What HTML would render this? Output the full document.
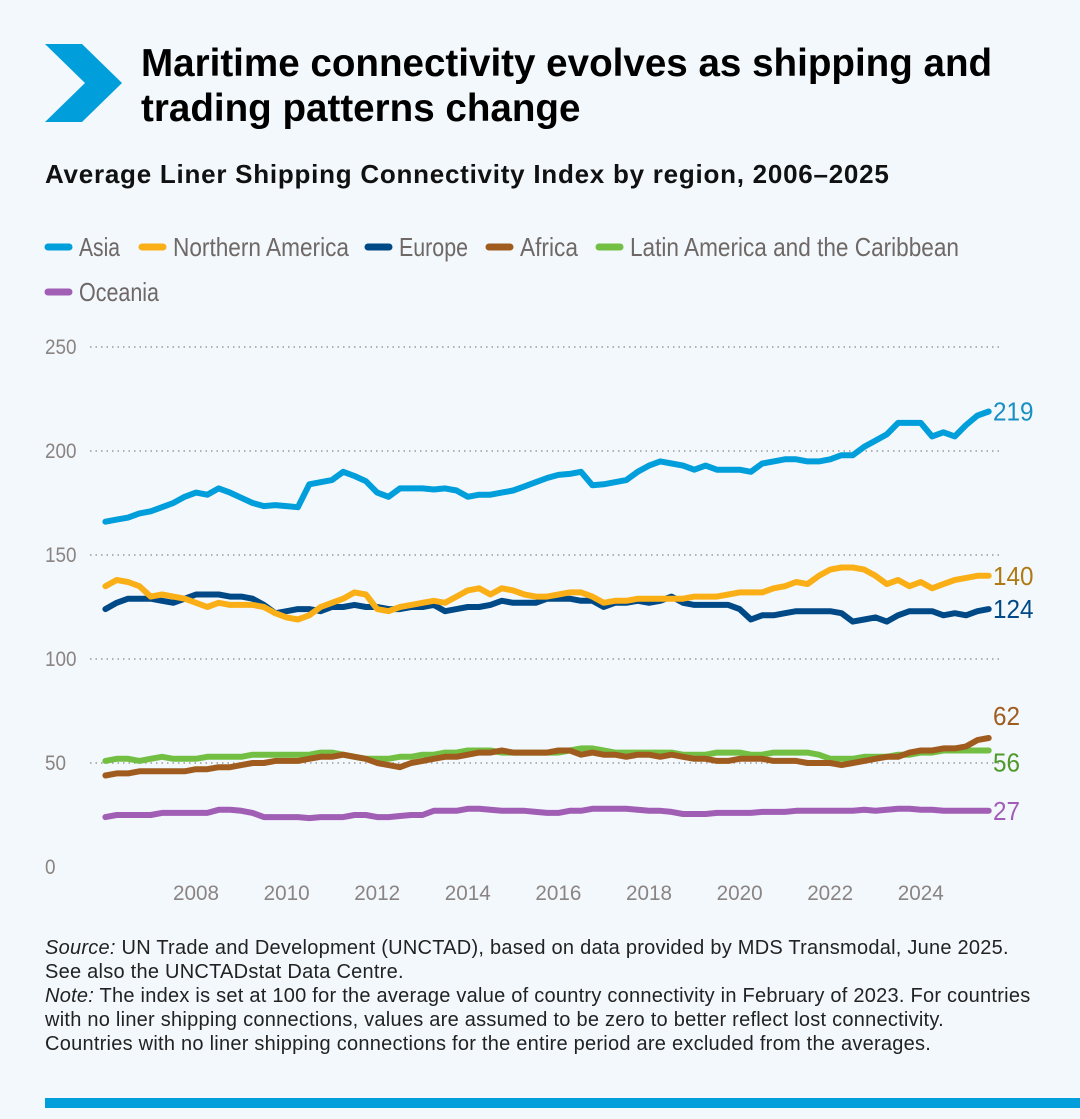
<!DOCTYPE html>
<html><head><meta charset="utf-8"><style>
html,body{margin:0;padding:0;background:#f3f8fc;}
body{width:1080px;height:1119px;position:relative;overflow:hidden;font-family:"Liberation Sans",sans-serif;}
.t{position:absolute;margin:0}
</style></head><body>
<svg class="t" style="left:45px;top:44px" width="80" height="80" viewBox="0 0 80 80"><polygon points="0,0 37,0 77,39 37,78 0,78 40,39" fill="#009edb"/></svg>
<h1 class="t" style="left:141px;top:41px;font-size:38.6px;line-height:45px;font-weight:bold;color:#000;white-space:nowrap">Maritime connectivity evolves as shipping and<br>trading patterns change</h1>
<h2 class="t" style="left:45px;top:159px;font-size:26px;font-weight:bold;color:#111;letter-spacing:0.75px;white-space:nowrap">Average Liner Shipping Connectivity Index by region, 2006–2025</h2>
<svg id="chart" class="t" style="left:0;top:0" width="1080" height="1119"></svg>
<div class="t" style="left:45px;top:936px;font-size:20px;line-height:24px;color:#222;width:1035px;letter-spacing:0.25px;white-space:nowrap">
<i>Source:</i> UN Trade and Development (UNCTAD), based on data provided by MDS Transmodal, June 2025.<br>See also the UNCTADstat Data Centre.<br><i>Note:</i> The index is set at 100 for the average value of country connectivity in February of 2023. For countries<br>with no liner shipping connections, values are assumed to be zero to better reflect lost connectivity.<br>Countries with no liner shipping connections for the entire period are excluded from the averages.</div>
<div class="t" style="left:45px;top:1098px;width:1035px;height:10px;background:#009edb"></div>
<script>
const names=["Asia","Northern America","Europe","Africa","Latin America and the Caribbean","Oceania"];
const colors=["#009edb","#fbaf17","#004987","#a05c1e","#72bf44","#a05eb5"];
const labelColors=["#1a8fc4","#b07a12","#004987","#a05c1e","#4f9a2a","#a05eb5"];
const yTicks=[0,50,100,150,200,250];
const xTicks=[2008,2010,2012,2014,2016,2018,2020,2022,2024];
const startYear=2006;
const asia=[166,167,168,170,171,173,175,178,180,179,182,180,177.5,175,173.5,174,173.5,173,184,185,186,190,188,185.5,180,178,182,182,182,181.5,182,181,178,179,179,180,181,183,185,187,188.5,189,190,183.5,184,185,186,190,193,195,194,193,191,193,191,191,191,190,194,195,196,196,195,195,196,198,198,202,205,208,213.5,213.5,213.5,207,209,207,212.5,217,219];
const northAmerica=[135,138,137,135,130,131,130,129,127,125,127,126,126,126,125,122,120,119,121,125,127,129,132,131,124,123,125,126,127,128,127,130,133,134,131,134,133,131,130,130,131,132,132,130,127,128,128,129,129,129,129,129,130,130,130,131,132,132,132,134,135,137,136,140,143,144,144,143,140,136,138,135,137,134,136,138,139,140,140];
const europe=[124,127,129,129,129,128,127,129,131,131,131,130,130,129,126,122,123,124,124,123,125,125,126,125,125,124,124,125,125,126,123,124,125,125,126,128,127,127,127,129,129,129,128,128,125,127,127,128,127,128,130,127,126,126,126,126,124,119,121,121,122,123,123,123,123,122,118,119,120,118,121,123,123,123,121,122,121,123,124];
const africa=[44,45,45,46,46,46,46,46,47,47,48,48,49,50,50,51,51,51,52,53,53,54,53,52,50,49,48,50,51,52,53,53,54,55,55,56,55,55,55,55,56,56,54,55,54,54,53,54,54,53,54,53,52,52,51,51,52,52,52,51,51,51,50,50,50,49,50,51,52,53,53,55,56,56,57,57,58,61,62];
const latinAmerica=[51,52,52,51,52,53,52,52,52,53,53,53,53,54,54,54,54,54,54,55,55,54,53,52,52,52,53,53,54,54,55,55,56,56,56,55,55,55,55,55,55,56,57,57,56,55,55,55,55,55,55,54,54,54,55,55,55,54,54,55,55,55,55,54,52,52,52,53,53,53,54,54,55,55,56,56,56,56,56];
const oceania=[24,25,25,25,25,26,26,26,26,26,27.5,27.5,27,26,24,24,24,24,23.5,24,24,24,25,25,24,24,24.5,25,25,27,27,27,28,28,27.5,27,27,27,26.5,26,26,27,27,28,28,28,28,27.5,27,27,26.5,25.5,25.5,25.5,26,26,26,26,26.5,26.5,26.5,27,27,27,27,27,27,27.5,27,27.5,28,28,27.5,27.5,27,27,27,27,27];
const series=[asia,northAmerica,europe,africa,latinAmerica,oceania];
const NS="http://www.w3.org/2000/svg";
const svg=document.getElementById('chart');
function xs(t){return 105.4+(t-2006)*45.3;}
function ys(v){return 867-v*2.08;}
function mk(tag,attrs,parent){const e=document.createElementNS(NS,tag);for(const k in attrs)e.setAttribute(k,attrs[k]);(parent||svg).appendChild(e);return e;}
const FONT='"Liberation Sans Narrow","Liberation Sans",sans-serif';
const legendPos=[[45,247,41],[139,247,176],[365,247,69],[486,247,58],[596,247,329],[45,292,80]];
names.forEach((n,i)=>{
  const g=mk('g',{});
  
  
  const [lx,ly,w]=legendPos[i];
  mk('line',{x1:lx+3,y1:ly,x2:lx+24,y2:ly,stroke:colors[i],'stroke-width':7,'stroke-linecap':'round'},g);
  const tx=mk('text',{x:lx+34,y:ly+9,'font-size':26,fill:'#6e6866','font-family':FONT,textLength:w,lengthAdjust:'spacingAndGlyphs'},g);
  tx.textContent=n;
});
yTicks.forEach(v=>{
  const y=ys(v);
  if(v>0){const l=mk('line',{x1:90,y1:y,x2:1000,y2:y,stroke:'#9a9a9a','stroke-width':1.5,'stroke-dasharray':'1.5 4'});
  
  }
  const t=mk('text',{x:45,y:y+7,'font-size':21,fill:'#8a8482','font-family':FONT,textLength:String(v).length*10.5,lengthAdjust:'spacingAndGlyphs'});
  
  
  t.textContent=v;
});
xTicks.forEach(yr=>{
  const t=mk('text',{x:xs(yr),y:900,'font-size':21,fill:'#8a8482','text-anchor':'middle','font-family':FONT,textLength:46,lengthAdjust:'spacingAndGlyphs'});
  
  
  t.textContent=yr;
});
const order=[5,4,3,2,1,0];
order.forEach(i=>{
  const d=series[i].map((v,k)=>(k?'L':'M')+xs(startYear+k/4).toFixed(1)+','+ys(v).toFixed(1)).join(' ');
  const p=mk('path',{d:d,fill:'none',stroke:colors[i],'stroke-width':6,'stroke-linejoin':'round','stroke-linecap':'round'});
  
  
  const last=series[i][series[i].length-1];
  const s=String(Math.round(last));
  const tl=mk('text',{x:993,y:ys(last)+9+(i===3?-22:i===4?12:0),'font-size':26,fill:labelColors[i],'font-family':FONT,textLength:s.length*13.5,lengthAdjust:'spacingAndGlyphs'});
  
  
  tl.textContent=s;
});
</script>
</body></html>
